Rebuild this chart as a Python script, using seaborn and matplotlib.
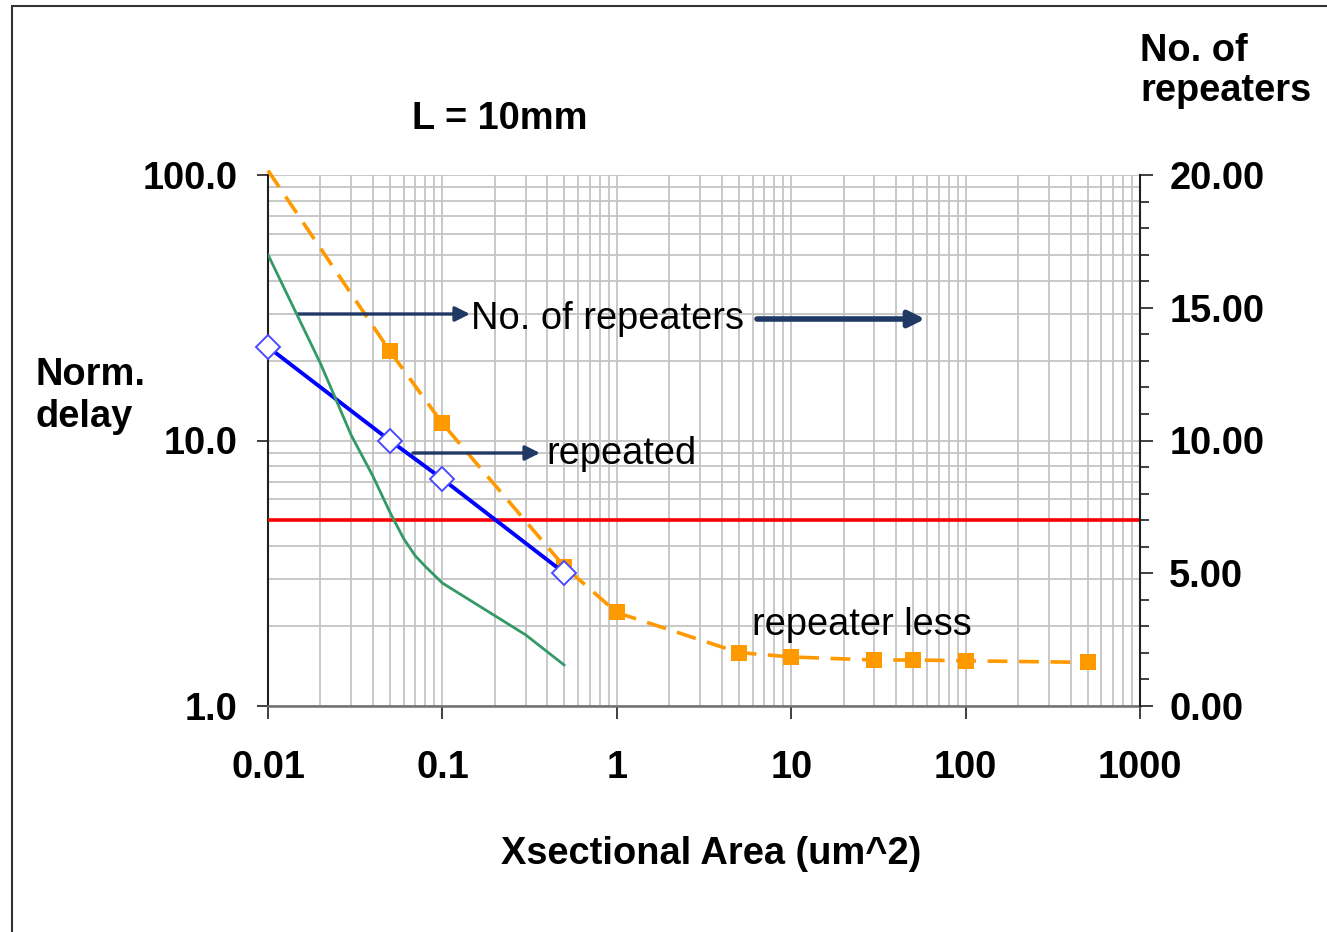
import matplotlib
matplotlib.use("Agg")
import matplotlib.pyplot as plt
import seaborn as sns
import numpy as np
from matplotlib.lines import Line2D

# ---------------- data ----------------
x_ticks = [0.01, 0.1, 1, 10, 100, 1000]
x_tick_labels = ["0.01", "0.1", "1", "10", "100", "1000"]
left_ticks = [1, 10, 100]
left_tick_labels = ["1.0", "10.0", "100.0"]
right_ticks = [0, 5, 10, 15, 20]
right_tick_labels = ["0.00", "5.00", "10.00", "15.00", "20.00"]

# repeater-less normalised delay (orange, left axis)
repless_area = [0.01, 0.05, 0.1, 0.5, 1, 5, 10, 30, 50, 100, 500]
repless_delay = [104, 21.7, 11.6, 3.35, 2.25, 1.59, 1.53, 1.49, 1.49, 1.48, 1.46]
repless_marked = [0.05, 0.1, 0.5, 1, 5, 10, 30, 50, 100, 500]

# repeated normalised delay (blue, left axis)
rep_area = [0.01, 0.05, 0.1, 0.5]
rep_delay = [22.5, 10.0, 7.16, 3.17]

# number of repeaters (green, right axis)
nrep_area = [0.01, 0.02, 0.03, 0.04, 0.05, 0.06, 0.07, 0.08, 0.1, 0.2, 0.3, 0.5]
nrep_count = [17.0, 12.9, 10.2, 8.65, 7.3, 6.3, 5.65, 5.25, 4.63, 3.4, 2.68, 1.54]

# horizontal reference level (red, left axis)
ref_level = 5.0

# ---------------- styling ----------------
sns.set_theme(style="white")
plt.rcParams["font.family"] = ["Liberation Sans", "DejaVu Sans"]
plt.rcParams["text.color"] = "black"
plt.rcParams["axes.labelcolor"] = "black"
plt.rcParams["xtick.color"] = "black"
plt.rcParams["ytick.color"] = "black"

W, H = 1327, 932
fig = plt.figure(figsize=(W / 100, H / 100), dpi=100)
fig.patch.set_facecolor("white")

L, R, T, B = 268, 1140, 175, 706
ax = fig.add_axes([L / W, 1 - B / H, (R - L) / W, (B - T) / H])
ax.set_xscale("log")
ax.set_yscale("log")
ax.set_xlim(0.01, 1000)
ax.set_ylim(1, 100)

ax2 = ax.twinx()
ax2.set_ylim(0, 20)

def axfx(px):
    return (px - L) / (R - L)

def axfy(py):
    return (B - py) / (B - T)

# grid
ax.grid(which="both", axis="both", color="#c4c4c4", lw=1.3)
ax.set_axisbelow(True)

ORANGE = "#FF9900"
BLUE = "#0000FF"
GREEN = "#339966"
NAVY = "#1F3864"

# red reference line
ax.axhline(ref_level, color="#FF0000", lw=2.6, zorder=3)

# orange dashed repeater-less
mark_idx = [repless_area.index(v) for v in repless_marked]
sns.lineplot(x=repless_area, y=repless_delay, ax=ax, color=ORANGE, lw=2.6,
             linestyle=(0, (5.5, 3.2)), marker="s", markersize=12,
             markeredgewidth=0, markevery=mark_idx, clip_on=False, zorder=4,
             sort=False, estimator=None)

# blue repeated
sns.lineplot(x=rep_area, y=rep_delay, ax=ax, color=BLUE, lw=2.8,
             marker="D", markersize=12, markerfacecolor="white",
             markeredgecolor="#4a4aff", markeredgewidth=1.4, clip_on=False,
             zorder=5, sort=False, estimator=None)

# green number of repeaters (right axis)
sns.lineplot(x=nrep_area, y=nrep_count, ax=ax2, color=GREEN, lw=2.0,
             zorder=5, sort=False, estimator=None)

# ---------------- axes & ticks ----------------
FS = 27.4
ax.set_xticks(x_ticks, x_tick_labels)
ax.set_yticks(left_ticks, left_tick_labels)
ax.xaxis.set_minor_formatter(matplotlib.ticker.NullFormatter())
ax.yaxis.set_minor_formatter(matplotlib.ticker.NullFormatter())
for lab in ax.get_xticklabels() + ax.get_yticklabels():
    lab.set_fontweight("bold")
    lab.set_fontsize(FS)
ax.tick_params(axis="x", which="major", direction="out", length=9, width=1.3,
               color="#303030", pad=23, bottom=True)
ax.tick_params(axis="y", which="major", direction="out", length=8, width=1.3,
               color="#303030", pad=14, left=True)
ax.tick_params(which="minor", length=0)

ax2.set_yticks(right_ticks, right_tick_labels)
ax2.set_yticks(np.arange(0, 21, 1), minor=True)
ax2.yaxis.set_minor_formatter(matplotlib.ticker.NullFormatter())
for lab in ax2.get_yticklabels():
    lab.set_fontweight("bold")
    lab.set_fontsize(FS)
ax2.tick_params(axis="y", which="major", direction="out", length=9, width=1.3,
                color="#303030", pad=12, right=True)
ax2.tick_params(axis="y", which="minor", direction="out", length=6.5, width=1.3,
                color="#303030", right=True)

for s in ["top", "right"]:
    ax.spines[s].set_visible(False)
ax.spines["left"].set_color("#202020")
ax.spines["left"].set_linewidth(1.5)
ax.spines["bottom"].set_color("#707070")
ax.spines["bottom"].set_linewidth(1.8)
for s in ["top", "left", "bottom"]:
    ax2.spines[s].set_visible(False)
ax2.spines["right"].set_color("#202020")
ax2.spines["right"].set_linewidth(1.5)

# axis titles
ax.set_xlabel("Xsectional Area (um^2)", fontsize=FS, fontweight="bold")
ax.xaxis.set_label_coords(axfx(711), axfy(854))
ax.xaxis.label.set_va("center")

ax.set_ylabel("Norm.\ndelay", fontsize=FS, fontweight="bold", rotation=0,
              ha="left", va="center", linespacing=1.2)
ax.yaxis.set_label_coords(axfx(35), axfy(396))

ax2.set_ylabel("No. of\nrepeaters", fontsize=FS, fontweight="bold", rotation=0,
               ha="left", va="center", linespacing=1.15)
ax2.yaxis.set_label_coords(axfx(1140), axfy(71))

ax.text(axfx(500), axfy(119), "L = 10mm", transform=ax.transAxes,
        ha="center", va="center", fontsize=FS, fontweight="bold")

# ---------------- annotations ----------------
def arrow(x0, x1, y, lw, ms):
    ax.annotate("", xy=(axfx(x1), axfy(y)), xytext=(axfx(x0), axfy(y)),
                xycoords="axes fraction", textcoords="axes fraction",
                arrowprops=dict(arrowstyle="-|>", lw=lw, color=NAVY,
                                mutation_scale=ms, shrinkA=0, shrinkB=0),
                zorder=6)

arrow(298, 470, 314, 2.4, 22)
arrow(757, 925, 319, 4.0, 24)
arrow(413, 540, 453, 2.4, 22)

ax.text(axfx(471), axfy(329), "No. of repeaters", transform=ax.transAxes,
        ha="left", va="baseline", fontsize=FS, zorder=7)
ax.text(axfx(546), axfy(464), "repeated", transform=ax.transAxes,
        ha="left", va="baseline", fontsize=FS, zorder=7)
ax.text(axfx(752), axfy(635), "repeater less", transform=ax.transAxes,
        ha="left", va="baseline", fontsize=FS, zorder=7)

# frame around the chart (left and top edges visible)
fig.add_artist(Line2D([12 / W, 12 / W], [0, 1 - 6 / H], transform=fig.transFigure,
                      color="#333333", lw=1.5))
fig.add_artist(Line2D([12 / W, 1], [1 - 6 / H, 1 - 6 / H], transform=fig.transFigure,
                      color="#333333", lw=1.5))

fig.savefig("out.png", dpi=100)
